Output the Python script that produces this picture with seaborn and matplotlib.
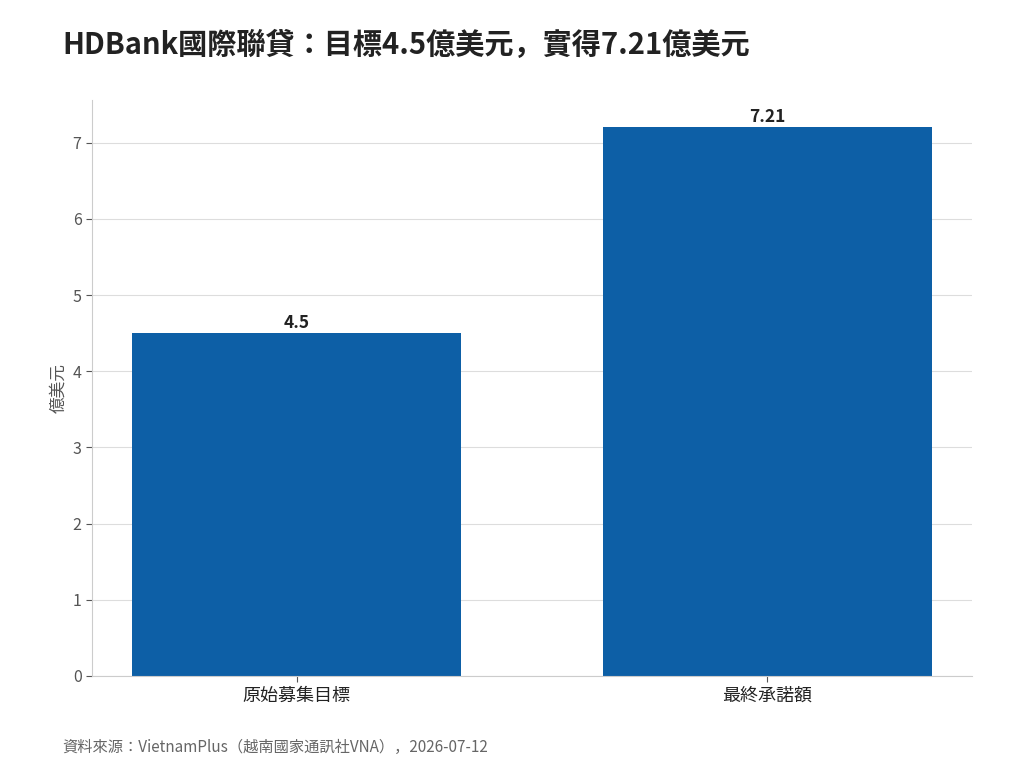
import seaborn as sns
import matplotlib.pyplot as plt
import pandas as pd

# Data
categories = ['原始募集目標', '最終承諾額']
values = [4.5, 7.21]
value_labels = ['4.5', '7.21']

title = 'HDBank國際聯貸：目標4.5億美元，實得7.21億美元'
y_label = '億美元'
source = '資料來源：VietnamPlus（越南國家通訊社VNA），2026-07-12'

sns.set_style("whitegrid")
plt.rcParams['font.family'] = ['Noto Sans CJK JP', 'DejaVu Sans']

df = pd.DataFrame({'item': categories, 'value': values})

fig = plt.figure(figsize=(10.24, 7.68), dpi=100)
ax = fig.add_axes([0.0898, 0.1198, 0.8594, 0.75])

sns.barplot(data=df, x='item', y='value', color='#0d5fa6', width=0.7,
            saturation=1, linewidth=0, ax=ax)

for i, v in enumerate(values):
    ax.text(i, v + 0.01, value_labels[i], ha='center', va='bottom',
            fontsize=12.5, fontweight='bold', color='#222222')

ax.set_xlim(-0.435, 1.435)
ax.set_ylim(0, 7.56)
ax.set_xlabel('')
ax.set_ylabel(y_label, fontsize=12, color='#555555')
ax.yaxis.grid(True, color='#dddddd', linewidth=0.8)
ax.xaxis.grid(False)
ax.set_axisbelow(True)

for side in ['top', 'right']:
    ax.spines[side].set_visible(False)
for side in ['left', 'bottom']:
    ax.spines[side].set_color('#cccccc')
    ax.spines[side].set_linewidth(0.8)

ax.tick_params(axis='y', labelsize=11.5, labelcolor='#555555', length=4,
               color='#555555', width=0.8, left=True)
ax.tick_params(axis='x', labelsize=13, labelcolor='#222222', length=4,
               color='#555555', width=0.8, bottom=True)

fig.text(0.0605, 0.942, title, fontsize=21, fontweight='bold',
         color='#222222', va='center', ha='left')
fig.text(0.0605, 0.027, source, fontsize=11, color='#666666',
         va='center', ha='left')

plt.savefig('out.png', dpi=100)
